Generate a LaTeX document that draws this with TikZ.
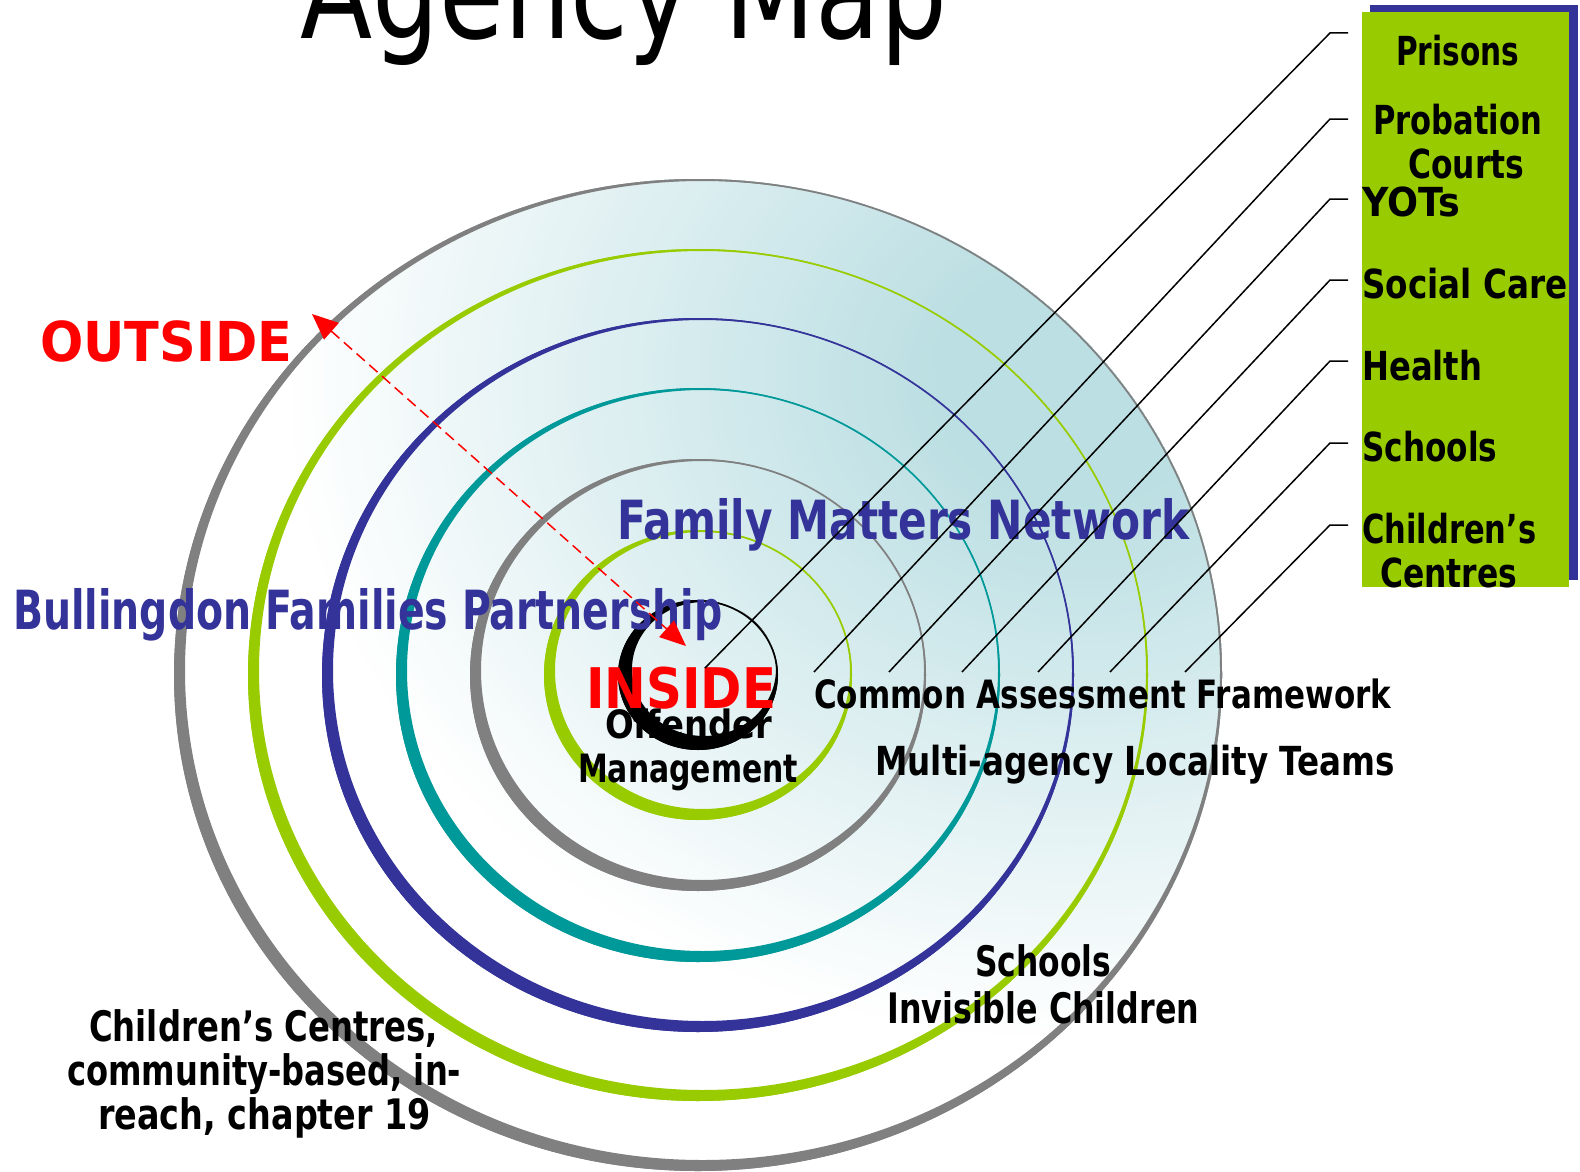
\documentclass[tikz,border=0pt]{standalone}
\usepackage{fontspec}
\setmainfont{DejaVu Sans}
\usetikzlibrary{arrows.meta}
\definecolor{ringgray}{HTML}{808080}
\definecolor{ringgreen}{HTML}{99CC00}
\definecolor{ringblue}{HTML}{333399}
\definecolor{ringteal}{HTML}{009999}
\definecolor{bgteal}{HTML}{BCDFE3}
\definecolor{navy}{HTML}{333399}
\definecolor{boxgreen}{HTML}{99CC00}
\newcommand\fw[2]{\resizebox{#1pt}{\height}{#2}}
\newcommand\agring[5]{% colour, rx, ry, shrink, offset
  \fill[#1, even odd rule] (698,675) ellipse [x radius=#2pt, y radius=#3pt]
      ($(698,675)+(#5,-#5)$) ellipse [x radius=#2pt-#4pt, y radius=#3pt-#4pt];
  \draw[#1, line width=1.6pt] (698,675) ellipse [x radius=#2pt-0.8pt, y radius=#3pt-0.8pt];
}
\usetikzlibrary{calc}
\begin{document}
\begin{tikzpicture}[x=1pt,y=-1pt,
  tb/.style={inner sep=0pt, anchor=base west, font=\bfseries\fontsize{#1}{#1}\selectfont},
  leader/.style={draw=black, line width=1.5pt},
  inout/.style={draw=red, dashed, dash pattern=on 11pt off 6pt, line width=1.5pt,
     {Triangle[length=26pt,width=22pt]}-{Triangle[length=26pt,width=22pt]}}]
\useasboundingbox (0,0) rectangle (1580,1172);
\fill[white] (0,0) rectangle (1580,1172);

% background shading of the disc (stepped elliptic gradient)
\begin{scope}
  \clip (698,675) ellipse [x radius=524pt, y radius=496pt];
  \foreach \k in {0,...,59}{
    \pgfmathsetmacro\rr{800-\k*11}
    \pgfmathsetmacro\ry{\rr/1.2}
    \pgfmathsetmacro\pp{100*\k/59}
    \fill[bgteal!\pp!white] (1080,380) ellipse [x radius=\rr pt, y radius=\ry pt];
  }
\end{scope}

% rings
\agring{ringgray}{524}{496}{6.5}{4.5}
\agring{ringgreen}{450}{426}{6.5}{4.5}
\agring{ringblue}{376}{357}{6.5}{4.5}
\agring{ringteal}{302}{287}{6.5}{4.5}
\agring{ringgray}{228}{216}{6.5}{4.5}
\agring{ringgreen}{154}{145}{6.5}{4.5}
\agring{black}{80}{75}{8}{6}

% title
\node[inner sep=0pt, anchor=base west, font=\fontsize{130}{130}\selectfont] (title) at (300,38) {\fw{647}{Agency Map}};

% right box
\fill[navy] (1370,5) rectangle (1578,580);
\fill[boxgreen] (1362,12) rectangle (1569,587);
\node[tb=40] (prisons) at (1396,66) {\fw{123}{Prisons}};
\node[tb=40] (probation) at (1373,134) {\fw{169}{Probation}};
\node[tb=40] (courts) at (1408,178) {\fw{116}{Courts}};
\node[tb=40] (yots) at (1362,216) {\fw{98}{YOTs}};
\node[tb=40] (social) at (1362,298) {\fw{205}{Social Care}};
\node[tb=40] (health) at (1362,380) {\fw{120}{Health}};
\node[tb=40] (schoolsbox) at (1362,461) {\fw{135}{Schools}};
\node[tb=40] (childrens) at (1362,543) {\fw{174}{Children’s}};
\node[tb=40] (centres) at (1380,587) {\fw{137}{Centres}};

% disc texts
\node[tb=55, text=red] (outside) at (40,361) {\fw{252}{OUTSIDE}};
\node[tb=54, text=navy] (fmn) at (617,539) {\fw{572}{Family Matters Network}};
\node[tb=54, text=navy] (bfp) at (13,629) {\fw{709}{Bullingdon Families Partnership}};
\node[tb=56, text=red] (inside) at (586,708) {\fw{190}{INSIDE}};
\node[tb=39] (offender) at (605,738) {\fw{167}{Offender}};
\node[tb=39] (management) at (578,782) {\fw{220}{Management}};
\node[tb=39] (caf) at (814,708) {\fw{577}{Common Assessment Framework}};
\node[tb=40] (malt) at (875,775) {\fw{520}{Multi-agency Locality Teams}};
\node[tb=42] (schools) at (975,976) {\fw{136}{Schools}};
\node[tb=42] (invisible) at (887,1023) {\fw{312}{Invisible Children}};
\node[tb=42] (cc1) at (89,1041) {\fw{349}{Children's Centres,}};
\node[tb=42] (cc2) at (67,1085) {\fw{394}{community-based, in-}};
\node[tb=42] (cc3) at (98,1129) {\fw{333}{reach, chapter 19}};

% leader lines
\foreach \i/\ty/\ex/\ey in {1/33/705/668, 2/119/814/672, 3/199/889/672, 4/280/962/672,
                            5/361/1038/672, 6/443/1110/672, 7/525/1185/672}{
  \coordinate (tick\i) at (1348,\ty);
  \coordinate (bend\i) at (1330,\ty);
  \coordinate (end\i) at (\ex,\ey);
  \draw[leader] (tick\i) -- (bend\i) -- (end\i);
}

% inside/outside arrow
\coordinate (outtip) at (312,314);
\coordinate (intip) at (686,646);
\draw[inout] (outtip) -- (intip);
\end{tikzpicture}
\end{document}
